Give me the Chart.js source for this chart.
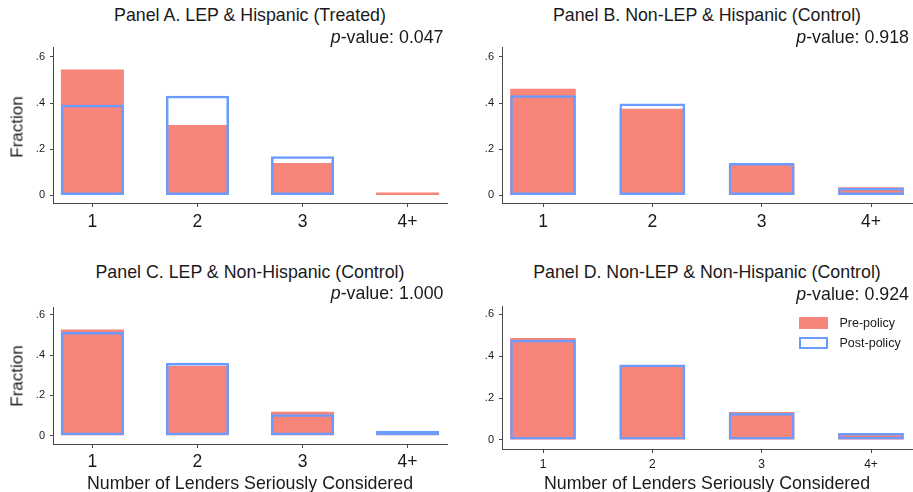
<!DOCTYPE html>
<html>
<head>
<meta charset="utf-8">
<script src="https://cdn.jsdelivr.net/npm/chart.js@4.4.1/dist/chart.umd.min.js"></script>
<style>
  html, body { margin: 0; padding: 0; background: #ffffff; }
  #wrap { position: relative; width: 913px; height: 492px; overflow: hidden;
          font-family: 'Liberation Sans', Arial, sans-serif; color: #1a1a1a; }
  #wrap canvas { position: absolute; }
  .t { position: absolute; white-space: nowrap; line-height: 1; }
</style>
</head>
<body>
<div id="wrap"></div>
<script>
// ---------------- data ----------------
const categories = ['1', '2', '3', '4+'];
const categoryValues = [1, 2, 3, 4];
const seriesNames = ['Pre-policy', 'Post-policy'];
const panelTitles = [
  'Panel A. LEP & Hispanic (Treated)',
  'Panel B. Non-LEP & Hispanic (Control)',
  'Panel C. LEP & Non-Hispanic (Control)',
  'Panel D. Non-LEP & Non-Hispanic (Control)'
];
const pValues = ['0.047', '0.918', '1.000', '0.924'];
const preA  = [0.545, 0.305, 0.140, 0.013];
const postA = [0.393, 0.432, 0.170, 0.000];
const preB  = [0.462, 0.375, 0.135, 0.035];
const postB = [0.434, 0.398, 0.140, 0.033];
const preC  = [0.526, 0.345, 0.119, 0.012];
const postC = [0.514, 0.361, 0.106, 0.025];
const preD  = [0.487, 0.358, 0.134, 0.033];
const postD = [0.479, 0.360, 0.129, 0.034];
const yTickValues = [0, 0.2, 0.4, 0.6];
const yTickLabels = ['0', '.2', '.4', '.6'];
const yAxisTitle = 'Fraction';
const xAxisTitle = 'Number of Lenders Seriously Considered';

// ---------------- styles / layout ----------------
const FONT = "'Liberation Sans', Arial, sans-serif";
const RED = '#F8857A';
const BLUE = '#6A9BFF';
const AXIS = '#4a4a4a';

const panels = [
  { pre: preA, post: postA, canvas: {x: 0,   y: 30,  w: 455, h: 210}, area: {l: 53,  r: 447, t: 47,  b: 203},
    yMin: -0.033, yMax: 0.643, xTickFont: 17.5, xTickPad: 5, titleY: 16.3, pY: 37.5, pRight: 443.5,
    center: 250, yTitleY: 127, xTitle: false },
  { pre: preB, post: postB, canvas: {x: 455, y: 30,  w: 458, h: 210}, area: {l: 502, r: 912, t: 47,  b: 203},
    yMin: -0.033, yMax: 0.643, xTickFont: 17.5, xTickPad: 5, titleY: 16.3, pY: 37.5, pRight: 909,
    center: 707, yTitleY: null, xTitle: false },
  { pre: preC, post: postC, canvas: {x: 0,   y: 290, w: 455, h: 200}, area: {l: 53,  r: 447, t: 307, b: 444},
    yMin: -0.041, yMax: 0.638, xTickFont: 17.5, xTickPad: 4, titleY: 272.8, pY: 294.2, pRight: 443.5,
    center: 250, yTitleY: 376, xTitle: true },
  { pre: preD, post: postD, canvas: {x: 455, y: 290, w: 458, h: 200}, area: {l: 502, r: 912, t: 306, b: 449},
    yMin: -0.043, yMax: 0.640, xTickFont: 12, xTickPad: 4, titleY: 273.3, pY: 295.3, pRight: 909,
    center: 707, yTitleY: null, xTitle: true, legend: true }
];

const wrap = document.getElementById('wrap');

function addText(html, x, y, size, align, rotate) {
  const d = document.createElement('div');
  d.className = 't';
  d.innerHTML = html;
  d.style.fontSize = size + 'px';
  d.style.left = x + 'px';
  d.style.top = y + 'px';
  const tx = align === 'right' ? '-100%' : (align === 'left' ? '0' : '-50%');
  d.style.transform = 'translate(' + tx + ',-50%)' + (rotate ? ' rotate(-90deg)' : '');
  wrap.appendChild(d);
  return d;
}

panels.forEach((p, idx) => {
  const cv = document.createElement('canvas');
  cv.width = p.canvas.w; cv.height = p.canvas.h;
  cv.style.left = p.canvas.x + 'px'; cv.style.top = p.canvas.y + 'px';
  cv.style.width = p.canvas.w + 'px'; cv.style.height = p.canvas.h + 'px';
  wrap.appendChild(cv);

  const yWidth = p.area.l - p.canvas.x;
  const xHeight = p.canvas.y + p.canvas.h - p.area.b;

  new Chart(cv.getContext('2d'), {
    type: 'bar',
    data: {
      datasets: [
        {
          label: seriesNames[0],
          data: categoryValues.map((v, i) => ({x: v, y: p.pre[i]})),
          backgroundColor: RED,
          borderWidth: 0,
          grouped: false,
          order: 1,
          barPercentage: 0.6,
          categoryPercentage: 1
        },
        {
          label: seriesNames[1],
          data: categoryValues.map((v, i) => ({x: v, y: p.post[i]})),
          backgroundColor: 'rgba(255,255,255,0)',
          borderColor: BLUE,
          borderWidth: 2.5,
          borderSkipped: false,
          grouped: false,
          order: 0,
          barPercentage: 0.6,
          categoryPercentage: 1
        }
      ]
    },
    options: {
      responsive: false,
      animation: false,
      devicePixelRatio: 1,
      events: [],
      layout: { padding: { left: 0, top: p.area.t - p.canvas.y, right: p.canvas.x + p.canvas.w - p.area.r, bottom: 0 } },
      plugins: { legend: { display: false }, tooltip: { enabled: false }, title: { display: false } },
      scales: {
        x: {
          type: 'linear',
          offset: false,
          min: 0.625, max: 4.375,
          afterBuildTicks: (s) => { s.ticks = categoryValues.map(v => ({value: v})); },
          afterFit: (s) => { s.height = xHeight; },
          ticks: {
            autoSkip: false, maxRotation: 0, minRotation: 0,
            padding: p.xTickPad,
            color: '#1a1a1a',
            font: { family: FONT, size: p.xTickFont },
            callback: (v, i) => categories[i]
          },
          grid: { display: true, offset: false, drawOnChartArea: false, drawTicks: true, tickLength: 4, color: AXIS, lineWidth: 1 },
          border: { display: true, color: AXIS, width: 1 }
        },
        y: {
          type: 'linear',
          min: p.yMin, max: p.yMax,
          afterBuildTicks: (s) => { s.ticks = yTickValues.map(v => ({value: v})); },
          afterFit: (s) => { s.width = yWidth; },
          ticks: {
            padding: 5,
            color: '#1a1a1a',
            font: { family: FONT, size: 11 },
            callback: (v, i) => yTickLabels[i]
          },
          grid: { display: true, drawOnChartArea: false, drawTicks: true, tickLength: 3, color: AXIS, lineWidth: 1 },
          border: { display: true, color: AXIS, width: 1 }
        }
      }
    }
  });

  addText(panelTitles[idx], p.center, p.titleY, 17.8, 'center');
  addText('<i>p</i>-value: ' + pValues[idx], p.pRight, p.pY, 17.8, 'right');
  if (p.yTitleY !== null) addText(yAxisTitle, 17, p.yTitleY, 17, 'center', true);
  if (p.xTitle) addText(xAxisTitle, p.center, 484, 17.8, 'center');

  if (p.legend) {
    const sw1 = document.createElement('div');
    sw1.style.cssText = 'position:absolute;left:798.5px;top:316.5px;width:29px;height:12px;background:' + RED + ';';
    wrap.appendChild(sw1);
    const sw2 = document.createElement('div');
    sw2.style.cssText = 'position:absolute;left:798.5px;top:337px;width:29px;height:11.5px;box-sizing:border-box;border:2px solid ' + BLUE + ';background:#fff;';
    wrap.appendChild(sw2);
    addText(seriesNames[0], 839.5, 322.8, 12.5, 'left');
    addText(seriesNames[1], 839.5, 342.8, 12.5, 'left');
  }
});
</script>
</body>
</html>
